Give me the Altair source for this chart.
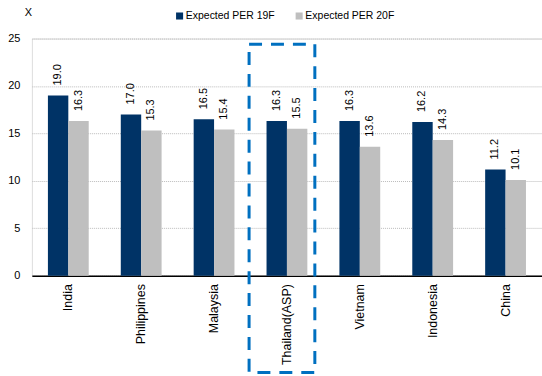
import altair as alt
import pandas as pd

countries = ["India", "Philippines", "Malaysia", "Thailand(ASP)", "Vietnam", "Indonesia", "China"]
per19 = [19.0, 17.0, 16.5, 16.3, 16.3, 16.2, 11.2]
per20 = [16.3, 15.3, 15.4, 15.5, 13.6, 14.3, 10.1]
series = ["Expected PER 19F", "Expected PER 20F"]
colors = ["#003366", "#BFBFBF"]

rows = []
for c, a, b in zip(countries, per19, per20):
    rows.append({"country": c, "series": series[0], "value": a, "label": f"{a:.1f}"})
    rows.append({"country": c, "series": series[1], "value": b, "label": f"{b:.1f}"})
df = pd.DataFrame(rows)

highlight = pd.DataFrame([{"country": "Thailand(ASP)", "top": 24.4, "bottom": -10.2}])

FONT = "Liberation Sans"

xenc = alt.X("country:N", sort=countries,
             scale=alt.Scale(paddingInner=0.44, paddingOuter=0.22),
             axis=alt.Axis(title=None, labelAngle=270, labelAlign="right", labelBaseline="middle",
                           labelFontSize=12.5, labelFont=FONT, labelColor="#000000",
                           ticks=False, domainColor="#000000", domainWidth=1.5,
                           labelPadding=8, grid=False))
yscale = alt.Scale(domain=[0, 25])
yaxis = alt.Axis(title="X", titleAngle=0, titleX=-4, titleY=-21, titleFontWeight="normal",
                 titleFontSize=11, titleFont=FONT, titleColor="#000000",
                 values=[0, 5, 10, 15, 20, 25], labelFontSize=11, labelFont=FONT,
                 labelColor="#000000", labelPadding=12, ticks=False, domain=False,
                 grid=True, gridColor="#BBBBBB", gridDash=[1, 1], gridWidth=1)

bars = alt.Chart(df).mark_bar().encode(
    x=xenc,
    xOffset=alt.XOffset("series:N", sort=series, scale=alt.Scale(paddingInner=0, paddingOuter=0)),
    y=alt.Y("value:Q", scale=yscale, axis=yaxis),
    color=alt.Color("series:N", sort=series, scale=alt.Scale(domain=series, range=colors),
                    legend=alt.Legend(title=None, orient="none", legendX=143, legendY=-28,
                                      direction="horizontal", symbolType="square",
                                      symbolSize=50, symbolStrokeWidth=0,
                                      labelFontSize=10.5, labelFont=FONT, labelColor="#000000",
                                      columnPadding=19, symbolOffset=0, labelOffset=1)),
)

texts = alt.Chart(df).mark_text(angle=270, align="left", baseline="middle", dx=10,
                                fontSize=11, font=FONT, color="#000000").encode(
    x=alt.X("country:N", sort=countries),
    xOffset=alt.XOffset("series:N", sort=series),
    y=alt.Y("value:Q", scale=yscale),
    text="label:N",
)

box = alt.Chart(highlight).mark_rect(fill=None, stroke="#0070C0", strokeWidth=3,
                                     strokeDash=[13, 9], width=66, xOffset=-5,
                                     clip=False).encode(
    x=alt.X("country:N", sort=countries),
    y=alt.Y("top:Q", scale=yscale),
    y2="bottom:Q",
)

chart = alt.layer(bars, texts, box).properties(
    width=512, height=238,
    autosize=alt.AutoSizeParams(type="none"),
    padding={"left": 32, "top": 38, "right": 0, "bottom": 100},
).configure_view(stroke=None).configure(background="#FFFFFF")

chart.save("out.html", embed_options={"renderer": "svg", "actions": False})
